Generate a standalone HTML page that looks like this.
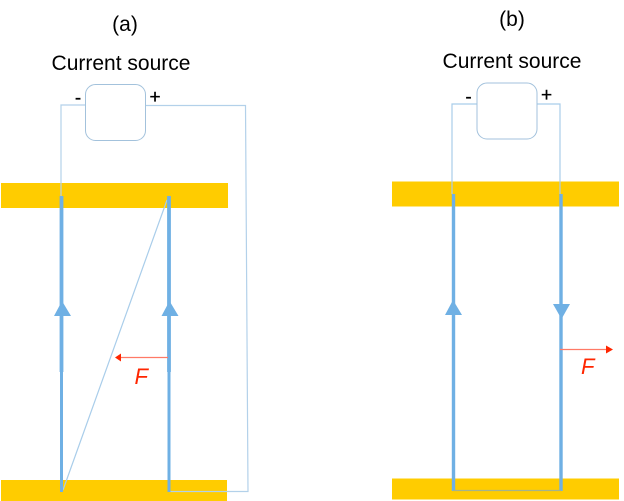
<!DOCTYPE html>
<html>
<head>
<meta charset="utf-8">
<style>
html,body{margin:0;padding:0;background:#fff;width:624px;height:501px;overflow:hidden}
svg{display:block}
text{font-family:"Liberation Sans",sans-serif;fill:#000}
</style>
</head>
<body>
<svg width="624" height="501" viewBox="0 0 624 501" xmlns="http://www.w3.org/2000/svg">
<!-- Panel a -->
<rect x="1" y="183" width="227" height="25" fill="#ffcc00"/>
<rect x="1" y="480" width="226" height="21" fill="#ffcc00"/>
<polyline points="85,105 61,105 61,196" fill="none" stroke="#b3d1ea" stroke-width="1.2"/>
<polyline points="146,105.500 245.500,105.500 248,491.500 169,491.500" fill="none" stroke="#b3d1ea" stroke-width="1.2"/>
<line x1="63" y1="490" x2="167" y2="200" stroke="#a9cdea" stroke-width="1.2"/>
<rect x="85.500" y="84.500" width="60" height="56" rx="10" fill="#fff" stroke="#a3c2dc" stroke-width="1"/>
<line x1="61.500" y1="196" x2="61.500" y2="372" stroke="#6fb0e4" stroke-width="3.800"/>
<line x1="61.500" y1="372" x2="61.500" y2="492" stroke="#6fb0e4" stroke-width="3"/>
<line x1="169" y1="196" x2="169" y2="372" stroke="#6fb0e4" stroke-width="3.800"/>
<line x1="169" y1="372" x2="169" y2="492" stroke="#6fb0e4" stroke-width="3"/>
<polygon points="62,301 54,316 71,316" fill="#6fb0e4"/>
<polygon points="169.500,301 161.500,316 178.500,316" fill="#6fb0e4"/>
<line x1="168" y1="357.500" x2="120" y2="357.500" stroke="#ff7a66" stroke-width="1.200"/>
<polygon points="115,357.500 121,353.500 121,361.500" fill="#ff2600"/>
<text x="134.500" y="384" font-size="22" font-style="italic" style="fill:#ff2600">F</text>
<text x="125" y="31" font-size="21" text-anchor="middle">(a)</text>
<text x="121" y="70" font-size="21" text-anchor="middle">Current source</text>
<text x="78" y="104" font-size="19" text-anchor="middle" stroke="#000" stroke-width="0.300">-</text>
<text x="155" y="103" font-size="19" text-anchor="middle" stroke="#000" stroke-width="0.300">+</text>

<!-- Panel b -->
<rect x="392" y="181.500" width="227" height="25" fill="#ffcc00"/>
<rect x="392" y="478.500" width="227" height="21" fill="#ffcc00"/>
<polyline points="477,104 452,104 452,194" fill="none" stroke="#a9cdea" stroke-width="1.200"/>
<polyline points="537,104 560,104 560,194" fill="none" stroke="#a9cdea" stroke-width="1.200"/>
<rect x="477" y="83" width="60" height="56" rx="10" fill="#fff" stroke="#a3c2dc" stroke-width="1"/>
<line x1="453.500" y1="194" x2="453.500" y2="491" stroke="#6fb0e4" stroke-width="3.400"/>
<line x1="561" y1="194" x2="561" y2="491" stroke="#6fb0e4" stroke-width="3.400"/>
<line x1="453" y1="490.500" x2="561" y2="490.500" stroke="#a5b38c" stroke-width="1.200"/>
<polygon points="453,300 445,315 462,315" fill="#6fb0e4"/>
<polygon points="561.500,319 553,304 570,304" fill="#6fb0e4"/>
<line x1="560" y1="349.500" x2="608" y2="349.500" stroke="#ff7a66" stroke-width="1.200"/>
<polygon points="613,349.500 606,345.500 606,353.500" fill="#ff2600"/>
<text x="581" y="374" font-size="22" font-style="italic" style="fill:#ff2600">F</text>
<text x="512" y="26" font-size="21" text-anchor="middle">(b)</text>
<text x="512" y="68" font-size="21" text-anchor="middle">Current source</text>
<text x="468.500" y="103" font-size="19" text-anchor="middle" stroke="#000" stroke-width="0.300">-</text>
<text x="546.500" y="101" font-size="19" text-anchor="middle" stroke="#000" stroke-width="0.300">+</text>
</svg>
</body>
</html>
